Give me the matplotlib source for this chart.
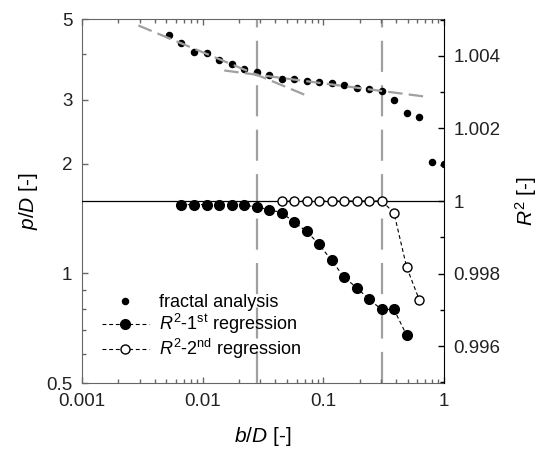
import matplotlib
matplotlib.use('Agg')
from matplotlib import pyplot as plt
from matplotlib.ticker import FixedLocator, FixedFormatter, LogLocator, NullFormatter, MultipleLocator

plt.rcParams['font.family'] = ['Liberation Sans', 'DejaVu Sans']
plt.rcParams['mathtext.fontset'] = 'custom'
plt.rcParams['mathtext.rm'] = 'Liberation Sans'
plt.rcParams['mathtext.it'] = 'Liberation Sans:italic'

# fractal analysis: p/D against b/D
b_frac = [0.00529, 0.00661, 0.00847, 0.01085, 0.01365, 0.01739, 0.02212, 0.02803,
          0.03563, 0.04514, 0.05706, 0.07271, 0.09194, 0.1172, 0.1482, 0.1888,
          0.2386, 0.3041, 0.3845, 0.4899, 0.6230, 0.7939, 1.0]
p_frac = [4.51, 4.29, 4.06, 4.03, 3.85, 3.75, 3.64, 3.57, 3.50, 3.42, 3.42, 3.37,
          3.35, 3.33, 3.30, 3.24, 3.21, 3.18, 3.00, 2.76, 2.69, 2.02, 2.00]

# R^2 of the 1st regression
b_r1 = [0.00661, 0.00847, 0.01085, 0.01365, 0.01739, 0.02212, 0.02803, 0.03563,
        0.04514, 0.05706, 0.07271, 0.09194, 0.1172, 0.1482, 0.1888, 0.2386,
        0.3041, 0.3845, 0.4899]
r2_first = [0.99990, 0.99990, 0.99990, 0.99990, 0.99990, 0.99988, 0.99984, 0.99976,
            0.99968, 0.99942, 0.99916, 0.99881, 0.99836, 0.99790, 0.99761, 0.99729,
            0.99701, 0.99701, 0.99630]

# R^2 of the 2nd regression
b_r2 = [0.04514, 0.05706, 0.07271, 0.09194, 0.1172, 0.1482, 0.1888, 0.2386,
        0.3041, 0.3845, 0.4899, 0.6230]
r2_second = [1.0, 1.0, 1.0, 1.0, 1.0, 1.0, 1.0, 1.0, 1.0, 0.99968, 0.99818, 0.99728]

# fitted power laws (end points) and the two break points
fit1_b = [0.00293, 0.0764]
fit1_p = [4.80, 3.06]
fit2_b = [0.0151, 0.754]
fit2_p = [3.61, 3.05]
breaks = [0.028, 0.304]

gray = '#a0a0a0'
spine = '#666666'

fig = plt.figure(figsize=(5.42, 4.5), dpi=100)
ax = fig.add_axes([82 / 542, 67 / 450, 362 / 542, 364 / 450])
ax2 = ax.twinx()

for b in breaks:
    ax.axvline(b, color=gray, lw=1.6, dashes=(14, 6), zorder=1)

frac, = ax.plot(b_frac, p_frac, 'o', color='black', ms=4.4, zorder=2, label='fractal analysis')
ax.plot(fit1_b, fit1_p, color=gray, lw=1.6, dashes=(6.5, 2.8), zorder=3)
ax.plot(fit2_b, fit2_p, color=gray, lw=1.6, dashes=(6.5, 2.8), zorder=3)

ax2.axhline(1.0, color='black', lw=0.9, zorder=1)
l1, = ax2.plot(b_r1, r2_first, 'o', color='black', ms=7, lw=0.8, ls=(0, (3.5, 2.5)),
               label=r'$\mathit{R}^{2}$-1$^{\mathrm{st}}$ regression')
l2, = ax2.plot(b_r2, r2_second, 'o', color='black', mfc='white', mec='black', mew=1.0,
               ms=6.5, lw=0.8, ls=(0, (3.5, 2.5)),
               label=r'$\mathit{R}^{2}$-2$^{\mathrm{nd}}$ regression')

ax.set_xscale('log')
ax.set_yscale('log')
ax.set_xlim(0.001, 1)
ax.set_ylim(0.5, 5)
ax.xaxis.set_major_locator(FixedLocator([0.001, 0.01, 0.1, 1]))
ax.xaxis.set_major_formatter(FixedFormatter(['0.001', '0.01', '0.1', '1']))
ax.xaxis.set_minor_locator(LogLocator(base=10, subs=range(2, 10)))
ax.xaxis.set_minor_formatter(NullFormatter())
ax.yaxis.set_major_locator(FixedLocator([0.5, 1, 2, 3, 5]))
ax.yaxis.set_major_formatter(FixedFormatter(['0.5', '1', '2', '3', '5']))
ax.yaxis.set_minor_locator(FixedLocator([0.6, 0.7, 0.8, 0.9, 4]))
ax.yaxis.set_minor_formatter(NullFormatter())

ax2.set_ylim(0.99498, 1.00502)
ax2.yaxis.set_major_locator(FixedLocator([0.996, 0.998, 1.0, 1.002, 1.004]))
ax2.yaxis.set_major_formatter(FixedFormatter(['0.996', '0.998', '1', '1.002', '1.004']))
ax2.yaxis.set_minor_locator(MultipleLocator(0.001))

ax.tick_params(which='both', direction='in', top=True, right=False, color=spine,
               labelsize=13.5, labelcolor='#222222', pad=7)
ax.tick_params(which='major', length=4.5, width=1)
ax.tick_params(which='minor', length=3, width=1)
ax2.tick_params(which='both', direction='in', color='black', labelsize=13.5,
                labelcolor='#222222', pad=7)
ax2.tick_params(which='major', length=4.5, width=1)
ax2.tick_params(which='minor', length=3, width=1)

for s in ['left', 'bottom', 'top']:
    ax.spines[s].set_color(spine)
    ax2.spines[s].set_visible(False)
ax.spines['right'].set_visible(False)
ax2.spines['right'].set_color('black')

ax.set_xlabel(r'$\mathit{b/D}$ [-]', fontsize=15)
ax.set_ylabel(r'$\mathit{p/D}$ [-]', fontsize=15)
ax2.set_ylabel(r'$\mathit{R}^{2}$ [-]', fontsize=15)
ax.xaxis.set_label_coords(0.5, -0.115)
ax.yaxis.set_label_coords(-0.117, 0.5)
ax2.yaxis.set_label_coords(1.19, 0.5)

handles = [frac, l1, l2]
ax2.legend(handles, [h.get_label() for h in handles], loc='lower left',
           bbox_to_anchor=(0.055, 0.06), frameon=False, fontsize=13,
           borderaxespad=0, borderpad=0, handlelength=2.6, handletextpad=0.55,
           labelspacing=0.05)

plt.savefig('out.png', dpi=100)
